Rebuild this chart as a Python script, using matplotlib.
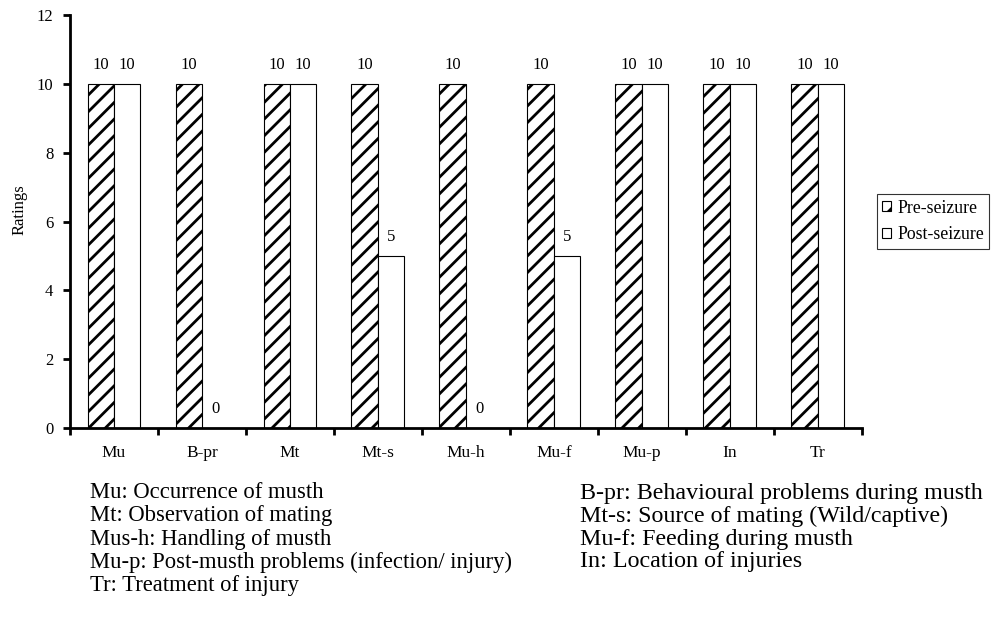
import matplotlib
matplotlib.use("Agg")
import matplotlib.pyplot as plt
import numpy as np

categories = ["Mu", "B-pr", "Mt", "Mt-s", "Mu-h", "Mu-f", "Mu-p", "In", "Tr"]
pre_seizure = [10, 10, 10, 10, 10, 10, 10, 10, 10]
post_seizure = [10, 0, 10, 5, 0, 5, 10, 10, 10]
yticks = [0, 2, 4, 6, 8, 10, 12]
notes_left = ["Mu: Occurrence of musth", "Mt: Observation of mating",
              "Mus-h: Handling of musth",
              "Mu-p: Post-musth problems (infection/ injury)",
              "Tr: Treatment of injury"]
notes_right = ["B-pr: Behavioural problems during musth",
               "Mt-s: Source of mating (Wild/captive)",
               "Mu-f: Feeding during musth", "In: Location of injuries"]

plt.rcParams['font.family'] = ['Liberation Serif', 'DejaVu Serif']
plt.rcParams['hatch.linewidth'] = 2.0

fig = plt.figure(figsize=(9.91, 6.18), dpi=100)
ax = fig.add_axes([0.0706, 0.307, 0.799, 0.669])

x = np.arange(len(categories)) + 0.5
w = 0.3
b1 = ax.bar(x - w / 2, pre_seizure, w, facecolor='white', edgecolor='black',
            hatch='//', linewidth=0.8, label='Pre-seizure')
b2 = ax.bar(x + w / 2, post_seizure, w, facecolor='white', edgecolor='black',
            linewidth=0.8, label='Post-seizure')
for rect, v in zip(b1, pre_seizure):
    ax.annotate(str(v), (rect.get_x() + rect.get_width() / 2, v),
                xytext=(0, 8), textcoords='offset points', ha='center',
                va='bottom', fontsize=12)
for rect, v in zip(b2, post_seizure):
    ax.annotate(str(v), (rect.get_x() + rect.get_width() / 2, v),
                xytext=(0, 8), textcoords='offset points', ha='center',
                va='bottom', fontsize=12)

ax.set_xlim(0, len(categories))
ax.set_ylim(0, 12)
ax.set_yticks(yticks)
ax.set_yticklabels([str(t) for t in yticks], fontsize=12)
ax.set_xticks(np.arange(len(categories) + 1))
ax.set_xticklabels([])
ax.set_xticks(x, minor=True)
ax.set_xticklabels(categories, minor=True, fontsize=12.5)
ax.tick_params(axis='x', which='minor', length=0, pad=12)
ax.tick_params(axis='x', which='major', length=5, width=2, direction='out')
ax.tick_params(axis='y', length=5, width=2, direction='out', pad=7)
for s in ['top', 'right']:
    ax.spines[s].set_visible(False)
for s in ['left', 'bottom']:
    ax.spines[s].set_linewidth(2)
ax.set_ylabel('Ratings', fontsize=12)
ax.yaxis.set_label_coords(-0.054, 0.53)

leg = ax.legend(loc='center left', bbox_to_anchor=(1.019, 0.50), fontsize=12.8,
                frameon=True, fancybox=False, edgecolor='black',
                handlelength=0.5, handleheight=0.5, handletextpad=0.35,
                borderpad=0.3, labelspacing=0.55, borderaxespad=0)
leg.get_frame().set_linewidth(0.8)

for i, t in enumerate(notes_left):
    fig.text(0.091, 1 - (493 + 23 * i) / 618, t, fontsize=16.3, va='center')
for i, t in enumerate(notes_right):
    fig.text(0.585, 1 - (493 + 23 * i) / 618, t, fontsize=17.3, va='center')

fig.savefig('out.png', dpi=100)
